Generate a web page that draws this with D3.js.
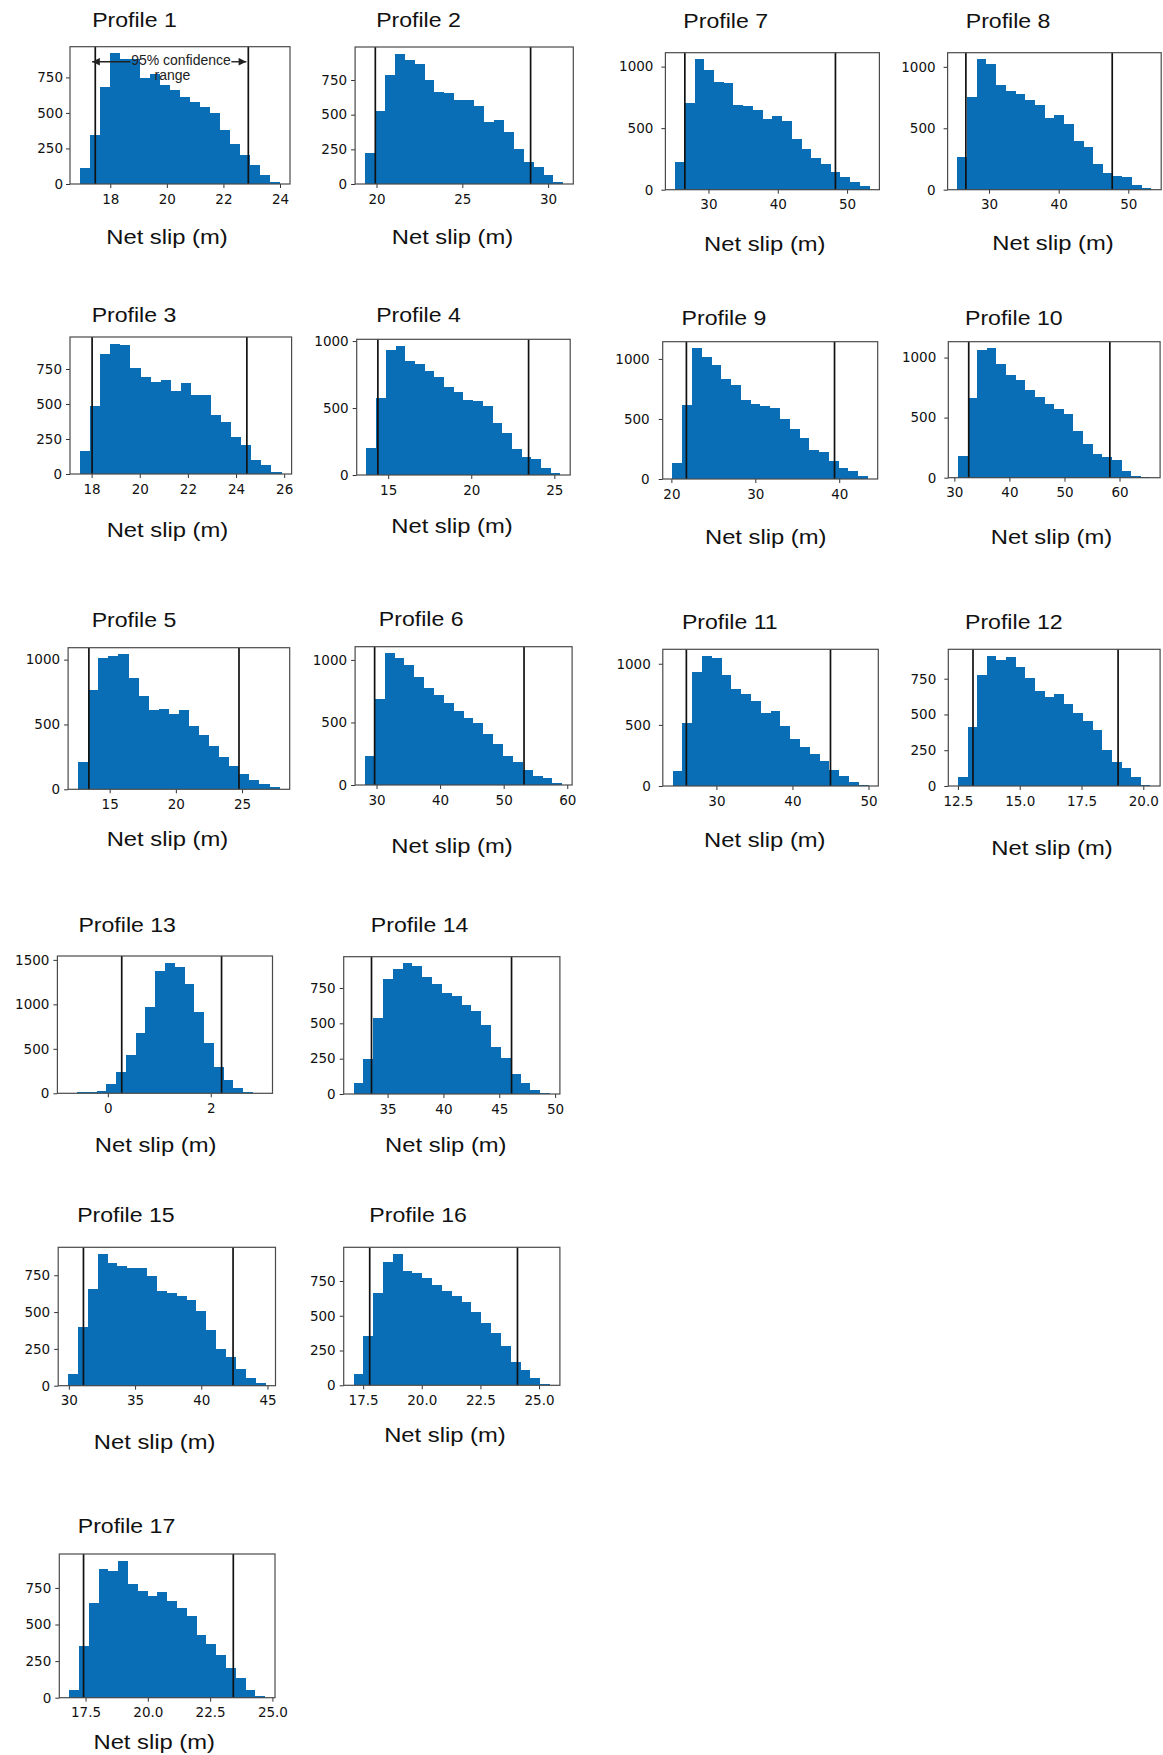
<!DOCTYPE html>
<html><head><meta charset="utf-8">
<script src="https://cdn.jsdelivr.net/npm/d3@7"></script>
<style>body{margin:0;background:#fff} svg{display:block}</style>
</head><body><svg id="c" width="1163" height="1755"></svg>
<script>
// ---------------- DATA ----------------
const profileNames = ["Profile 1","Profile 2","Profile 3","Profile 4","Profile 5","Profile 6","Profile 7","Profile 8","Profile 9","Profile 10","Profile 11","Profile 12","Profile 13","Profile 14","Profile 15","Profile 16","Profile 17"];
// histogram range (first bin left edge, last bin right edge), 20 bins each
const binStart = [16.93,19.33,17.52,13.69,12.62,28.18,25.19,25.44,20.13,30.65,24.24,12.5,-0.79,31.95,29.94,17.09,16.84];
const binEnd   = [24.0,30.89,25.89,25.37,27.84,59.21,53.26,53.33,43.42,65.62,50.0,20.29,3.01,49.55,44.86,25.47,24.71];
// 95% confidence range limits
const ciLow  = [17.47,19.93,18.02,14.38,13.43,29.7,26.59,26.67,21.79,32.61,26.05,13.11,0.27,33.56,31.1,17.78,17.42];
const ciHigh = [22.88,28.98,24.45,23.45,24.77,53.2,48.32,47.69,39.44,58.24,45.0,18.98,2.21,46.1,42.4,24.08,23.43];
// counts per bin
const counts1  = [111,347,679,920,882,882,743,771,700,663,613,575,540,500,382,278,205,132,61,17];
const counts2  = [223,523,787,941,895,862,750,666,653,605,603,566,445,465,375,249,162,121,63,12];
const counts3  = [165,489,856,932,918,760,695,659,669,590,647,566,566,424,372,266,209,101,65,14];
const counts4  = [200,575,930,965,850,830,775,730,660,620,560,550,515,390,310,195,135,120,55,15];
const counts5  = [210,765,1010,1030,1040,855,720,615,620,580,615,490,420,335,250,180,115,75,38,15];
const counts6  = [230,685,1053,1013,960,861,779,717,653,595,536,493,408,331,235,181,120,75,59,16];
const counts7  = [222,705,1060,973,878,870,686,680,650,572,596,561,409,328,258,209,144,100,65,27];
const counts8  = [268,751,1062,1027,856,802,778,729,686,585,607,534,393,350,209,136,114,100,41,11];
const counts9  = [130,615,1089,1014,950,833,786,660,624,607,591,501,415,340,242,226,153,95,67,25];
const counts10 = [183,661,1064,1078,947,856,814,731,675,614,575,528,389,281,194,169,144,56,11,8];
const counts11 = [120,515,930,1065,1050,905,790,750,695,595,615,490,385,315,265,205,130,85,35,12];
const counts12 = [65,410,775,910,880,905,830,755,665,625,640,570,510,455,390,255,170,125,65,10];
const counts13 = [3,10,20,25,100,235,435,680,965,1370,1470,1425,1225,915,565,295,145,60,20,7];
const counts14 = [80,250,540,810,885,925,905,830,775,715,695,630,585,490,335,255,140,80,30,10];
const counts15 = [80,400,655,895,830,810,800,800,745,640,630,610,585,505,380,250,195,115,55,20];
const counts16 = [80,355,665,885,945,820,810,770,720,675,645,600,530,445,375,285,170,110,50,12];
const counts17 = [55,350,645,880,865,935,780,730,695,720,660,610,560,430,365,290,205,135,55,15];
// tick labels
const xTicks1 = ["18","20","22","24"];
const xTicks2 = ["20","25","30"];
const xTicks3 = ["18","20","22","24","26"];
const xTicks4 = ["15","20","25"];
const xTicks5 = ["15","20","25"];
const xTicks6 = ["30","40","50","60"];
const xTicks7 = ["30","40","50"];
const xTicks8 = ["30","40","50"];
const xTicks9 = ["20","30","40"];
const xTicks10 = ["30","40","50","60"];
const xTicks11 = ["30","40","50"];
const xTicks12 = ["12.5","15.0","17.5","20.0"];
const xTicks13 = ["0","2"];
const xTicks14 = ["35","40","45","50"];
const xTicks15 = ["30","35","40","45"];
const xTicks16 = ["17.5","20.0","22.5","25.0"];
const xTicks17 = ["17.5","20.0","22.5","25.0"];
const yTicksA = ["0","250","500","750"];
const yTicksB = ["0","500","1000"];
const yTicksC = ["0","500","1000","1500"];
const xLabel = "Net slip (m)";
const annotationLines = ["95% confidence","range"];

const allCounts = [counts1,counts2,counts3,counts4,counts5,counts6,counts7,counts8,counts9,counts10,counts11,counts12,counts13,counts14,counts15,counts16,counts17];
const allXTicks = [xTicks1,xTicks2,xTicks3,xTicks4,xTicks5,xTicks6,xTicks7,xTicks8,xTicks9,xTicks10,xTicks11,xTicks12,xTicks13,xTicks14,xTicks15,xTicks16,xTicks17];
const allYTicks = [yTicksA,yTicksA,yTicksA,yTicksB,yTicksB,yTicksB,yTicksB,yTicksB,yTicksB,yTicksB,yTicksB,yTicksA,yTicksC,yTicksA,yTicksA,yTicksA,yTicksA];

// ---------------- LAYOUT (pixel boxes of each panel) ----------------
// [left, top, right, bottom, titleX, titleBaseline, labelX, labelBaseline, yLabelPad]
const layout = [
  [70,46.7,290,184,134.5,27,167,244,3],
  [355.1,47,573.3,184,418.5,27,452.5,244,4],
  [70,337,291.6,474,134,321.7,167.4,537,4],
  [356.7,339.3,570.2,475,418.5,321.7,452,533,4],
  [68.1,647.7,289.7,789.3,134,626.7,167.4,846,4],
  [355.1,646.7,572.1,785,421.2,626,452,853,4],
  [665.4,52.7,879.4,189.7,725.7,28.3,764.8,250.7,8],
  [947.6,52.7,1161.2,189.7,1008.1,28.3,1053,250,8],
  [662.7,341.7,877.7,479,723.9,325,765.7,544,9],
  [948.3,341.7,1160.1,477.7,1013.8,325,1051.5,544,8],
  [662.8,649.3,878.3,786,729.8,629.3,764.8,847,8],
  [948.3,649.3,1160.1,786,1013.8,629.3,1052,855,8],
  [57.4,956,272.5,1093.3,127.2,931.7,155.6,1152,4],
  [343.7,956.7,559.9,1094,419.6,931.7,445.8,1152,4],
  [58.2,1247.3,275.5,1385.7,125.9,1221.7,154.6,1449.3,4],
  [343.7,1247.3,559.9,1385.3,418.1,1221.7,444.9,1441.7,4],
  [59.3,1554,275,1697.7,126.5,1533,154.2,1749,4]
];

const BAR = "#0a6eb6";
const TICKFONT = "'DejaVu Sans', sans-serif";
const TEXTFONT = "'Liberation Sans', Arial, sans-serif";
const svg = d3.select("#c");
svg.append("rect").attr("width",1163).attr("height",1755).attr("fill","#fff");
const defs = svg.append("defs");
defs.append("marker").attr("id","ah").attr("viewBox","0 0 10 10").attr("refX",10).attr("refY",5)
  .attr("markerWidth",7.5).attr("markerHeight",5.5).attr("orient","auto-start-reverse")
  .append("path").attr("d","M0,0 L10,5 L0,10 z").attr("fill","#222");

profileNames.forEach((name, i) => {
  const [L,T,R,B,tx,ty,lx,ly,ypad] = layout[i];
  const s = binStart[i], e = binEnd[i], counts = allCounts[i];
  const w = (e - s) / counts.length;
  const pad = (e - s) * 0.05;
  const ymax = d3.max(counts) * 1.05;
  const x = d3.scaleLinear().domain([s - pad, e + pad]).range([L, R]);
  const y = d3.scaleLinear().domain([0, ymax]).range([B, T]);
  const g = svg.append("g");

  // bars (pixel-snapped so adjacent bars join without seams)
  g.append("g").attr("shape-rendering","crispEdges").selectAll("rect").data(counts).join("rect")
    .attr("x", (d,k) => Math.round(x(s + k*w)))
    .attr("width", (d,k) => Math.round(x(s + (k+1)*w)) - Math.round(x(s + k*w)))
    .attr("y", d => Math.round(y(d)))
    .attr("height", d => Math.round(y(0)) - Math.round(y(d)))
    .attr("fill", BAR);

  // CI lines
  g.append("g").selectAll("line").data([ciLow[i], ciHigh[i]]).join("line")
    .attr("x1", d => x(d)).attr("x2", d => x(d))
    .attr("y1", T).attr("y2", B)
    .attr("stroke", "#111").attr("stroke-width", 1.7);

  // axes
  const xt = allXTicks[i], yt = allYTicks[i];
  const xa = g.append("g").attr("transform", `translate(0,${B})`)
    .call(d3.axisBottom(x).tickValues(xt.map(Number)).tickFormat((d,k) => xt[k]).tickSize(4).tickPadding(6));
  const ya = g.append("g").attr("transform", `translate(${L},0)`)
    .call(d3.axisLeft(y).tickValues(yt.map(Number)).tickFormat((d,k) => yt[k]).tickSize(4).tickPadding(ypad));
  [xa, ya].forEach(a => {
    a.select(".domain").remove();
    a.selectAll(".tick line").attr("stroke", "#333").attr("stroke-width", 1);
    a.selectAll(".tick text").attr("fill", "#111").style("font-family", TICKFONT).style("font-size", "13.5px");
  });

  // frame
  g.append("rect").attr("x", L).attr("y", T).attr("width", R - L).attr("height", B - T)
    .attr("fill", "none").attr("stroke", "#4a4a4a").attr("stroke-width", 1.2);

  // title and x label
  g.append("text").attr("transform", `translate(${tx},${ty}) scale(1.1,1)`)
    .attr("text-anchor", "middle").style("font-family", TEXTFONT).style("font-size", "21px")
    .attr("fill", "#111").text(name);
  g.append("text").attr("transform", `translate(${lx},${ly}) scale(1.16,1)`)
    .attr("text-anchor", "middle").style("font-family", TEXTFONT).style("font-size", "20.5px")
    .attr("fill", "#111").text(xLabel);

  // annotation on the first panel
  if (i === 0) {
    g.append("text").attr("x", x(20.5)).attr("y", y(839)).attr("text-anchor","middle")
      .style("font-family", TEXTFONT).style("font-size","14px").attr("fill","#222").text(annotationLines[0]);
    g.append("text").attr("x", x(20.2)).attr("y", y(733)).attr("text-anchor","middle")
      .style("font-family", TEXTFONT).style("font-size","14px").attr("fill","#222").text(annotationLines[1]);
    g.append("line").attr("x1", x(18.71)).attr("x2", x(17.36)).attr("y1", y(860)).attr("y2", y(860))
      .attr("stroke","#222").attr("stroke-width",1.4).attr("marker-end","url(#ah)");
    g.append("line").attr("x1", x(22.28)).attr("x2", x(22.81)).attr("y1", y(860)).attr("y2", y(860))
      .attr("stroke","#222").attr("stroke-width",1.4).attr("marker-end","url(#ah)");
  }
});
</script></body></html>
